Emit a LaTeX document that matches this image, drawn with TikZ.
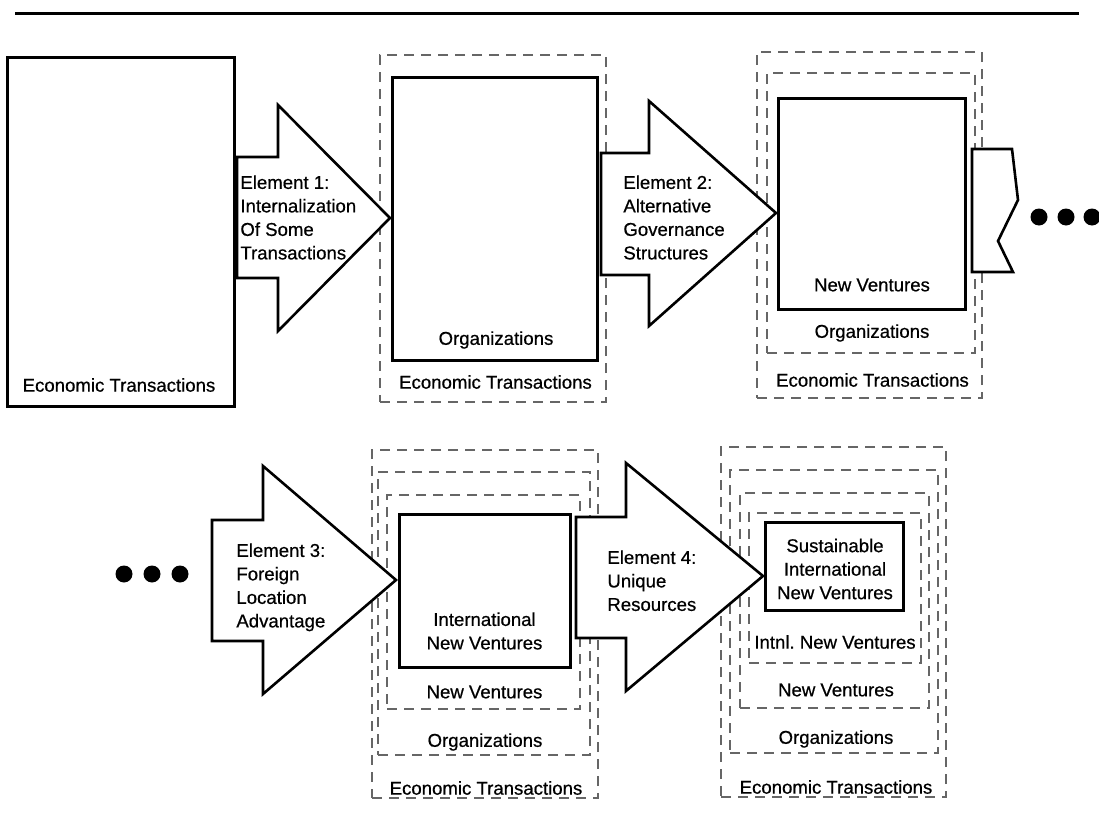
\documentclass[tikz,border=0pt]{standalone}
\usepackage{fontspec}
\setmainfont[FakeBold=0.6]{Liberation Sans}
\usetikzlibrary{fit}
\tikzset{
  x=0.5pt, y=-0.5pt,
  solidbox/.style={draw=black, line width=1.5pt, inner sep=0pt},
  dashbox/.style={draw=black!60, line width=0.65pt, dash pattern=on 5pt off 3.5pt, inner sep=0pt},
  blockarrow/.style={draw=black, line width=1.3pt, fill=white, line join=miter},
  lbl/.style={inner sep=0pt, font=\fontsize{9.3}{11.75}\selectfont},
  arrowtext/.style={lbl, align=left, anchor=north west},
  dot/.style={circle, fill=black, inner sep=0pt, minimum size=8.5pt}
}
\newcommand\mkbox[6]{\node[#1, fit={(#3,#4) (#5,#6)}] (#2) {};}
\begin{document}
\begin{tikzpicture}
\useasboundingbox (0,0) rectangle (1099,830);
% top rule
\coordinate (ruleL) at (15,13);
\coordinate (ruleR) at (1079,13);
\draw[line width=1.5pt] (ruleL) -- (ruleR);

% ---------- Panel 1
\mkbox{solidbox}{p1}{7}{57}{234}{406}
\node[lbl] (p1t) at (119,385) {Economic Transactions};

% ---------- Panel 2
\mkbox{dashbox}{p2o}{380}{55}{606}{402}
\mkbox{solidbox}{p2s}{392}{77}{597}{360}
\node[lbl] (p2t1) at (496,340) {Organizations};
\node[lbl] (p2t2) at (495.5,382) {Economic Transactions};

% ---------- Panel 3
\mkbox{dashbox}{p3o}{757}{52}{982}{398}
\mkbox{dashbox}{p3m}{767}{73}{975}{353}
\mkbox{solidbox}{p3s}{778}{98}{965}{309}
\node[lbl] (p3t1) at (872,285) {New Ventures};
\node[lbl] (p3t2) at (872,333) {Organizations};
\node[lbl] (p3t3) at (872.5,380) {Economic Transactions};

% ---------- Panel 4
\mkbox{dashbox}{p4o}{372}{450}{598}{798}
\mkbox{dashbox}{p4m}{378}{472}{590}{755}
\mkbox{dashbox}{p4i}{387}{495}{580}{709}
\mkbox{solidbox}{p4s}{399}{514}{570}{667}
\node[lbl, align=center] (p4t0) at (484.5,631) {International\\New Ventures};
\node[lbl] (p4t1) at (484.5,692) {New Ventures};
\node[lbl] (p4t2) at (485,742) {Organizations};
\node[lbl] (p4t3) at (486,788) {Economic Transactions};

% ---------- Panel 5
\mkbox{dashbox}{p5a}{721}{447}{946}{797}
\mkbox{dashbox}{p5b}{730}{470}{938}{753}
\mkbox{dashbox}{p5c}{740}{493}{929}{708}
\mkbox{dashbox}{p5d}{749}{513}{921}{663}
\mkbox{solidbox}{p5s}{765}{522}{903}{610}
\node[lbl, align=center] (p5t0) at (835,569) {Sustainable\\International\\New Ventures};
\node[lbl] (p5t1) at (835,642) {Intnl.\ New Ventures};
\node[lbl] (p5t2) at (836,690) {New Ventures};
\node[lbl] (p5t3) at (836,739) {Organizations};
\node[lbl] (p5t4) at (836,787) {Economic Transactions};

% ---------- Block arrows
\draw[blockarrow] (237,157) -- (278,157) -- (278,105) -- (390,218) -- (278,331) -- (278,278) -- (237,278) -- cycle;
\node[arrowtext] (a1) at (240,175) {Element 1:\\Internalization\\Of Some\\Transactions};

\draw[blockarrow] (601,153) -- (649,153) -- (649,101) -- (776,213) -- (649,326) -- (649,275) -- (601,275) -- cycle;
\node[arrowtext] (a2) at (623,175) {Element 2:\\Alternative\\Governance\\Structures};

\draw[blockarrow] (212,520) -- (263,520) -- (263,466) -- (396,580) -- (263,694) -- (263,641) -- (212,641) -- cycle;
\node[arrowtext] (a3) at (236,543) {Element 3:\\Foreign\\Location\\Advantage};

\draw[blockarrow] (576,517) -- (626,517) -- (626,463) -- (763,576) -- (626,691) -- (626,638) -- (576,638) -- cycle;
\node[arrowtext] (a4) at (607,550) {Element 4:\\Unique\\Resources};

% broken arrow stub
\draw[blockarrow] (972,149) -- (1012,149) -- (1018,200) -- (998,241) -- (1013,272) -- (972,272) -- cycle;

% ellipsis dots
\node[dot] (d1) at (1039,217) {};
\node[dot] (d2) at (1066,217) {};
\node[dot] (d3) at (1092,217) {};
\node[dot] (d4) at (124,574) {};
\node[dot] (d5) at (152,574) {};
\node[dot] (d6) at (180,574) {};
\end{tikzpicture}
\end{document}
